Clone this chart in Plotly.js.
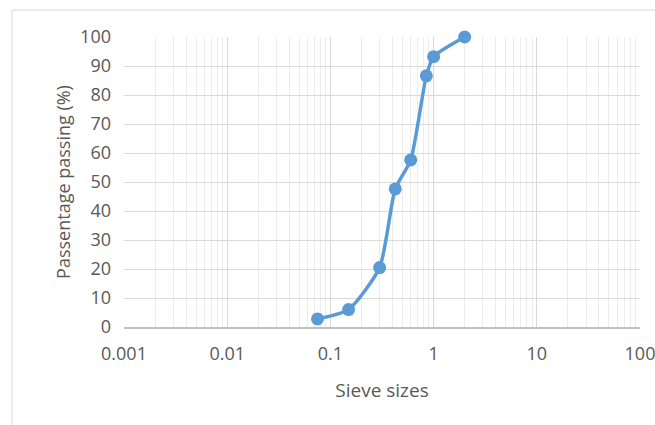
<!DOCTYPE html>
<html>
<head>
<meta charset="utf-8">
<script src="https://cdn.plot.ly/plotly-3.0.1.min.js"></script>
<style>
html,body{margin:0;padding:0;background:#fff;}
#chart{width:655px;height:425px;}
</style>
</head>
<body>
<div id="chart"></div>
<script>
var sieveSizes = [0.075, 0.15, 0.3, 0.425, 0.6, 0.85, 1.0, 2.0];
var percentPassing = [2.8, 6.0, 20.5, 47.6, 57.6, 86.6, 93.2, 100];
var xTickVals = [0.001, 0.01, 0.1, 1, 10, 100];
var xTickText = ["0.001", "0.01", "0.1", "1", "10", "100"];

var trace = {
  x: sieveSizes,
  y: percentPassing,
  type: 'scatter',
  mode: 'lines+markers',
  cliponaxis: false,
  line: {color: '#5B9BD5', width: 3.5, shape: 'spline', smoothing: 0.6},
  marker: {color: '#5B9BD5', size: 13},
  hoverinfo: 'x+y'
};

var layout = {
  width: 655,
  height: 425,
  margin: {l: 124, r: 15, t: 37, b: 98},
  paper_bgcolor: '#ffffff',
  plot_bgcolor: '#ffffff',
  showlegend: false,
  font: {family: 'Open Sans, Liberation Sans, sans-serif', color: '#595959', size: 18},
  xaxis: {
    type: 'log',
    range: [-3, 2],
    tickvals: xTickVals,
    ticktext: xTickText,
    ticklabeloverflow: 'allow',
    showgrid: true,
    gridcolor: '#d9d9d9',
    gridwidth: 1,
    minor: {dtick: 'D1', showgrid: true, gridcolor: '#ececec', gridwidth: 1, ticks: ''},
    showline: true,
    linecolor: '#bfbfbf',
    linewidth: 1.5,
    zeroline: false,
    ticks: '',
    ticklabelstandoff: 10,
    tickfont: {size: 18, color: '#595959'},
    title: {text: 'Sieve sizes', font: {size: 19, color: '#595959'}, standoff: 19}
  },
  yaxis: {
    range: [0, 100],
    dtick: 10,
    showgrid: true,
    gridcolor: '#d9d9d9',
    gridwidth: 1,
    showline: false,
    zeroline: false,
    ticks: '',
    ticklabelstandoff: 12,
    tickfont: {size: 18, color: '#595959'},
    title: {text: 'Passentage passing (%)', font: {size: 18, color: '#595959'}, standoff: 4}
  },
  shapes: [
    {type: 'rect', xref: 'paper', yref: 'paper', x0: -0.217, x1: 1.05, y0: -0.4, y1: 1.093,
     line: {color: '#d9d9d9', width: 1}, fillcolor: 'rgba(0,0,0,0)', layer: 'below'}
  ]
};

Plotly.newPlot('chart', [trace], layout, {displayModeBar: false, staticPlot: true});
</script>
</body>
</html>
